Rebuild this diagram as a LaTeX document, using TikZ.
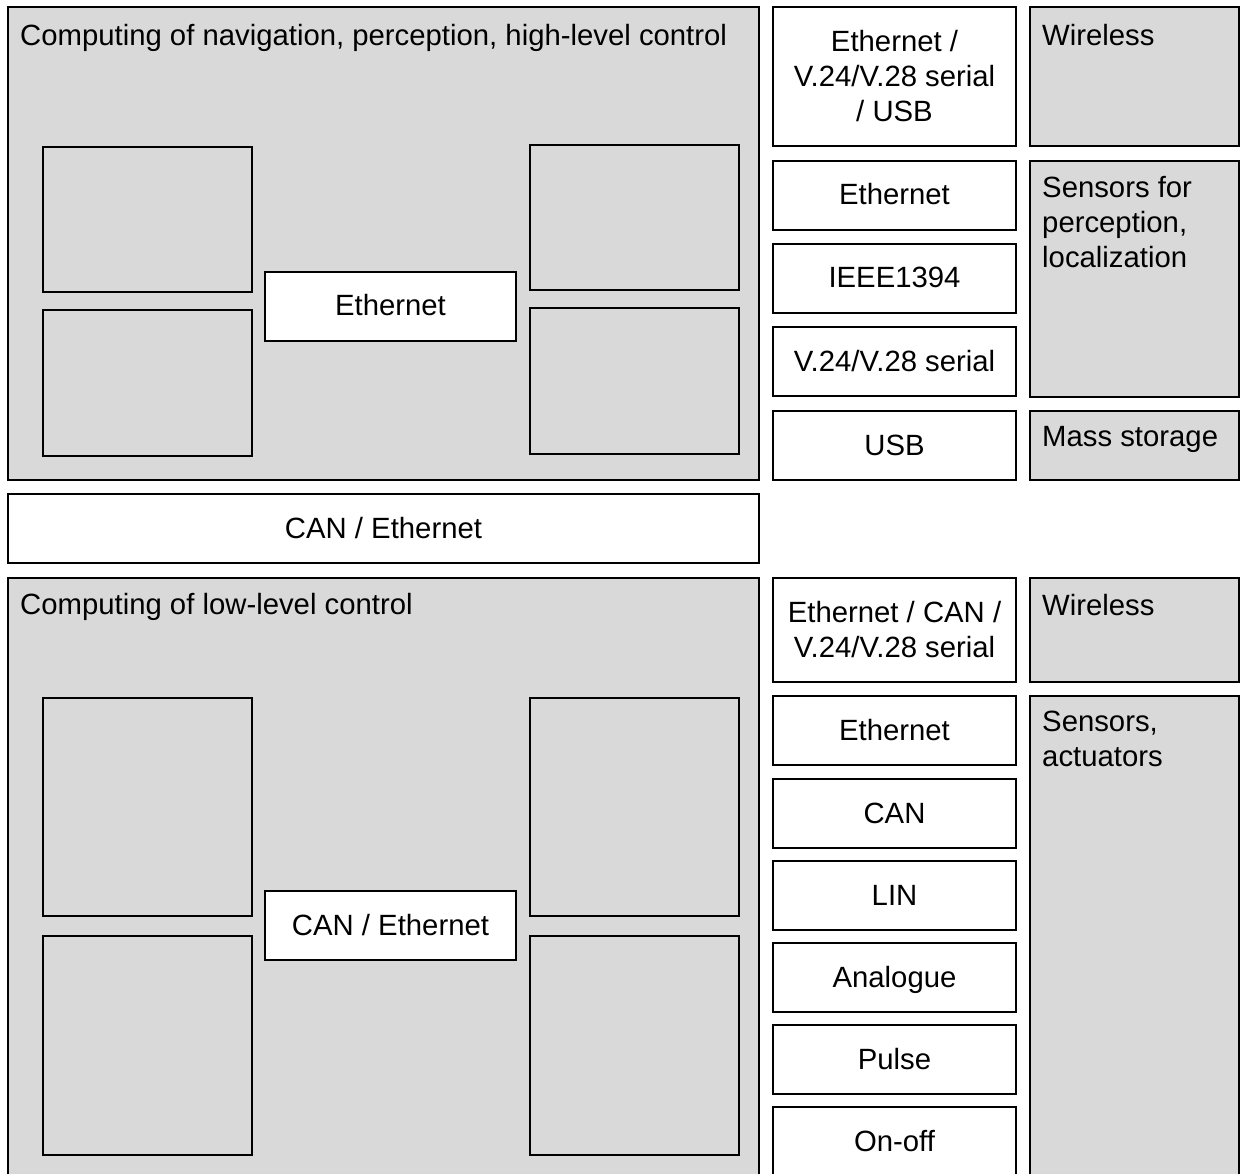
\documentclass[tikz,border=0pt]{standalone}
\usepackage{fontspec}
\setmainfont{Liberation Sans}
\usetikzlibrary{fit}
\begin{document}
\begin{tikzpicture}[x=1pt,y=-1pt,
  every node/.style={font=\fontsize{29.3}{35}\selectfont},
  frame/.style={draw=black, line width=1.6pt, inner sep=0pt},
  graybox/.style={frame, fill=boxgray},
  whitebox/.style={frame, fill=white, align=center},
  oneline/.style={anchor=base, yshift=-9.5pt, inner sep=0pt},
  caption/.style={anchor=north west, inner sep=0pt, align=left}]
\definecolor{boxgray}{RGB}{217,217,217}
\useasboundingbox (0,0) rectangle (1242,1174);
\fill[white] (0,0) rectangle (1242,1174);

% ---------- upper computing level ----------
\node[graybox, fit={(8,7) (759,480)}] (hi) {};
\node[caption] (hiT) at (20,24) {Computing of navigation, perception, high-level control};
\node[graybox, fit={(43,147) (252,292)}] (hi1) {};
\node[graybox, fit={(43,310) (252,456)}] (hi2) {};
\node[graybox, fit={(530,145) (739,290)}] (hi3) {};
\node[graybox, fit={(530,308) (739,454)}] (hi4) {};
\node[whitebox, fit={(265,272) (516,341)}] (hiBus) {};
\node[oneline] at (hiBus.center) (hiBusT) {Ethernet};

% interfaces of the upper level
\node[whitebox, fit={(773,7) (1016,146)}] (hiIf1) {};
\node[align=center] at (hiIf1.center) (hiIf1T) {Ethernet /\\V.24/V.28 serial\\/ USB};
\node[whitebox, fit={(773,161) (1016,230)}] (hiIf2) {};
\node[oneline] at (hiIf2.center) (hiIf2T) {Ethernet};
\node[whitebox, fit={(773,244) (1016,313)}] (hiIf3) {};
\node[oneline] at (hiIf3.center) (hiIf3T) {IEEE1394};
\node[whitebox, fit={(773,327) (1016,396)}] (hiIf4) {};
\node[oneline] at (hiIf4.center) (hiIf4T) {V.24/V.28 serial};
\node[whitebox, fit={(773,411) (1016,480)}] (hiIf5) {};
\node[oneline] at (hiIf5.center) (hiIf5T) {USB};

% devices of the upper level
\node[graybox, fit={(1030,7) (1239,146)}] (hiDev1) {};
\node[caption] (hiDev1T) at (1042,24) {Wireless};
\node[graybox, fit={(1030,161) (1239,397)}] (hiDev2) {};
\node[caption] (hiDev2T) at (1042,176) {Sensors for\\perception,\\localization};
\node[graybox, fit={(1030,411) (1239,480)}] (hiDev3) {};
\node[caption] (hiDev3T) at (1042,426) {Mass storage};

% ---------- link between the levels ----------
\node[whitebox, fit={(8,494) (759,563)}] (link) {};
\node[oneline] at (link.center) (linkT) {CAN / Ethernet};

% ---------- lower computing level ----------
\node[graybox, fit={(8,578) (759,1190)}] (lo) {};
\node[caption] (loT) at (20,593) {Computing of low-level control};
\node[graybox, fit={(43,698) (252,916)}] (lo1) {};
\node[graybox, fit={(43,936) (252,1155)}] (lo2) {};
\node[graybox, fit={(530,698) (739,916)}] (lo3) {};
\node[graybox, fit={(530,936) (739,1155)}] (lo4) {};
\node[whitebox, fit={(265,891) (516,960)}] (loBus) {};
\node[oneline] at (loBus.center) (loBusT) {CAN / Ethernet};

% interfaces of the lower level
\node[whitebox, fit={(773,578) (1016,682)}] (loIf1) {};
\node[align=center] at (loIf1.center) (loIf1T) {Ethernet / CAN /\\V.24/V.28 serial};
\node[whitebox, fit={(773,696) (1016,765)}] (loIf2) {};
\node[oneline] at (loIf2.center) (loIf2T) {Ethernet};
\node[whitebox, fit={(773,779) (1016,848)}] (loIf3) {};
\node[oneline] at (loIf3.center) (loIf3T) {CAN};
\node[whitebox, fit={(773,861) (1016,930)}] (loIf4) {};
\node[oneline] at (loIf4.center) (loIf4T) {LIN};
\node[whitebox, fit={(773,943) (1016,1012)}] (loIf5) {};
\node[oneline] at (loIf5.center) (loIf5T) {Analogue};
\node[whitebox, fit={(773,1025) (1016,1094)}] (loIf6) {};
\node[oneline] at (loIf6.center) (loIf6T) {Pulse};
\node[whitebox, fit={(773,1107) (1016,1176)}] (loIf7) {};
\node[oneline] at (loIf7.center) (loIf7T) {On-off};

% devices of the lower level
\node[graybox, fit={(1030,578) (1239,682)}] (loDev1) {};
\node[caption] (loDev1T) at (1042,594) {Wireless};
\node[graybox, fit={(1030,696) (1239,1190)}] (loDev2) {};
\node[caption] (loDev2T) at (1042,711) {Sensors,\\actuators};
\end{tikzpicture}
\end{document}
